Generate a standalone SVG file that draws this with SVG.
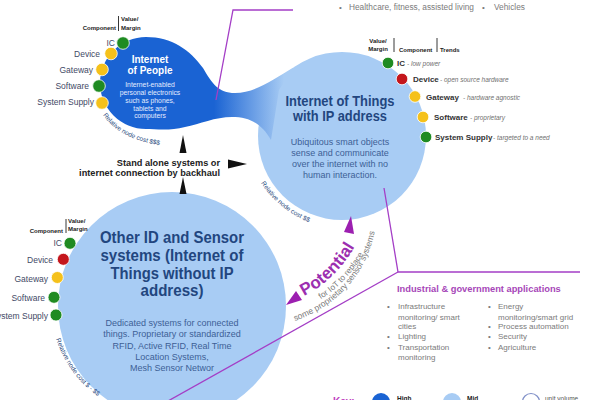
<svg xmlns="http://www.w3.org/2000/svg" width="600" height="400" viewBox="0 0 600 400">
<style>
text{font-family:"Liberation Sans",Arial,"DejaVu Sans",sans-serif}
.hdr{font-size:6px;font-weight:bold;fill:#222}
.lab{font-size:8.5px;fill:#3f4a66}
.labb{font-size:8px;font-weight:bold;fill:#333}
.trd{font-size:6.5px;font-style:italic;fill:#707070}
.dot{stroke:#fff;stroke-width:0.8}
.gr{fill:#1f8b22}.ye{fill:#f5c11b}.rd{fill:#c4161c}
.cost{font-size:6.5px;fill:#2b4c80}
.ttl{font-weight:bold;fill:#22467f;text-anchor:middle}
.desc{font-size:9px;fill:#3d5f96;text-anchor:middle}
.pl{fill:none;stroke:#a43ec6;stroke-width:1.3}
.arr{fill:#111}
.parr{fill:#9c1fb0}
.app{font-size:8px;fill:#7b7b7b}
.vl{stroke:#222;stroke-width:0.9}
.light{fill:#a8ccf4}
.sa{font-size:9.2px;font-weight:bold;fill:#222;text-anchor:end}
</style>
<defs>
<linearGradient id="neckGrad" gradientUnits="userSpaceOnUse" x1="214" y1="0" x2="284" y2="0">
<stop offset="0" stop-color="#1a63d3"/><stop offset="1" stop-color="#a8ccf4"/>
</linearGradient>
<path id="costIoP" d="M 103,115 Q 122,142 168,146"/>
<path id="costIoT" d="M 261,183 Q 283,216 325,228"/>
<path id="costOther" d="M 56,339 Q 72,386 118,408"/>
<path id="potPath" d="M 304,296 Q 339,278 359,239"/>
<path id="forPath" d="M 309.6,305.9 Q 347.4,286.4 368.9,244.6"/>
<path id="somePath" d="M 295,321 C 330,308 372,280 378,210"/>
</defs>

<g id="node-iot">
<circle cx="342" cy="136" r="84" class="light"/>
<text class="ttl" x="340" y="106" font-size="14.5" textLength="109" lengthAdjust="spacingAndGlyphs">Internet of Things</text>
<text class="ttl" x="340" y="121" font-size="14.5" textLength="94" lengthAdjust="spacingAndGlyphs">with IP address</text>
<text class="desc" x="340" y="144.5">Ubiquitous smart objects</text>
<text class="desc" x="340" y="155.5">sense and communicate</text>
<text class="desc" x="340" y="166.5">over the internet with no</text>
<text class="desc" x="340" y="177.5">human  interaction.</text>
<text class="cost"><textPath href="#costIoT">Relative  node  cost $$</textPath></text>
<text class="hdr" x="378" y="43" text-anchor="middle">Value/</text>
<text class="hdr" x="378" y="51" text-anchor="middle">Margin</text>
<line class="vl" x1="394" y1="38" x2="394" y2="52"/>
<text class="hdr" x="399" y="51.5">Component</text>
<line class="vl" x1="437" y1="38" x2="437" y2="52"/>
<text class="hdr" x="440" y="51.5">Trends</text>
<circle class="dot gr" cx="388" cy="63" r="5.8"/>
<circle class="dot rd" cx="402" cy="79" r="5.8"/>
<circle class="dot ye" cx="415" cy="96.5" r="5.8"/>
<circle class="dot ye" cx="423" cy="117" r="5.8"/>
<circle class="dot gr" cx="426" cy="137" r="5.8"/>
<text class="labb" x="397" y="66">IC</text><text class="trd" x="407" y="66">- low power</text>
<text class="labb" x="413" y="82">Device</text><text class="trd" x="440" y="82">- open source hardware</text>
<text class="labb" x="426" y="99.5">Gateway</text><text class="trd" x="463" y="99.5">- hardware agnostic</text>
<text class="labb" x="434" y="120">Software</text><text class="trd" x="470" y="120">- proprietary</text>
<text class="labb" x="435" y="139.5">System Supply</text><text class="trd" x="493" y="139.5">- targeted to a need</text>
</g>

<g id="node-iop">
<path d="M 146,37 C 172,37 190,50 203,68 C 212,83 218,93 235,93 C 255,93 272,80 293.8,67.2 L 279,90 L 271,140 C 262,124 250,117 232,117 C 215,117 200,124 185,127 C 170,131 156,129 146,129 A 46,46 0 0 1 146,37 Z" fill="url(#neckGrad)"/>
<text x="150" y="63" font-size="10" font-weight="bold" fill="#fff" text-anchor="middle">Internet</text>
<text x="150" y="74" font-size="10" font-weight="bold" fill="#fff" text-anchor="middle">of People</text>
<g font-size="6.8" fill="#e4ecff" text-anchor="middle">
<text x="150" y="87">Internet-enabled</text>
<text x="150" y="95">personal  electronics</text>
<text x="150" y="103">such as phones,</text>
<text x="150" y="110.5">tablets  and</text>
<text x="150" y="118">computers</text>
</g>
<text class="cost"><textPath href="#costIoP">Relative  node  cost $$$</textPath></text>
<text class="hdr" x="116" y="30" text-anchor="end">Component</text>
<line class="vl" x1="118.5" y1="16" x2="118.5" y2="31"/>
<text class="hdr" x="121" y="21">Value/</text>
<text class="hdr" x="121" y="29.5">Margin</text>
<circle class="dot gr" cx="123" cy="43" r="6.3"/>
<circle class="dot ye" cx="111" cy="53.5" r="6.3"/>
<circle class="dot ye" cx="102" cy="69.5" r="6.3"/>
<circle class="dot gr" cx="99" cy="86" r="6.3"/>
<circle class="dot ye" cx="102" cy="103" r="6.3"/>
<text class="lab" x="115" y="45.5" text-anchor="end">IC</text>
<text class="lab" x="100" y="57" text-anchor="end">Device</text>
<text class="lab" x="93" y="73" text-anchor="end">Gateway</text>
<text class="lab" x="89" y="89" text-anchor="end">Software</text>
<text class="lab" x="94" y="105" text-anchor="end">System Supply</text>
</g>

<g id="node-other">
<circle cx="172" cy="306" r="114" class="light"/>
<text class="ttl" x="172" y="243" font-size="16" textLength="144" lengthAdjust="spacingAndGlyphs">Other ID and Sensor</text>
<text class="ttl" x="172" y="261" font-size="16" textLength="143" lengthAdjust="spacingAndGlyphs">systems (Internet of</text>
<text class="ttl" x="172" y="278.5" font-size="16" textLength="123" lengthAdjust="spacingAndGlyphs">Things without IP</text>
<text class="ttl" x="172" y="296" font-size="16" textLength="63" lengthAdjust="spacingAndGlyphs">address)</text>
<text class="desc" x="172" y="326">Dedicated systems for connected</text>
<text class="desc" x="172" y="337.3">things. Proprietary or standardized</text>
<text class="desc" x="172" y="348.5">RFID, Active RFID, Real Time</text>
<text class="desc" x="172" y="359.8">Location Systems,</text>
<text class="desc" x="172" y="371">Mesh Sensor Networ</text>
<text class="cost"><textPath href="#costOther">Relative  node  cost $ - $$</textPath></text>
<text class="hdr" x="63" y="232.5" text-anchor="end">Component</text>
<line class="vl" x1="66" y1="219" x2="66" y2="233"/>
<text class="hdr" x="68" y="223">Value/</text>
<text class="hdr" x="68" y="231">Margin</text>
<circle class="dot gr" cx="70" cy="243.3" r="6"/>
<circle class="dot rd" cx="63.3" cy="259.3" r="6"/>
<circle class="dot ye" cx="57.3" cy="277.5" r="6"/>
<circle class="dot gr" cx="54" cy="297.3" r="6"/>
<circle class="dot gr" cx="56" cy="315" r="6"/>
<text class="lab" x="62" y="245.5" text-anchor="end">IC</text>
<text class="lab" x="53" y="263" text-anchor="end">Device</text>
<text class="lab" x="48" y="281.5" text-anchor="end">Gateway</text>
<text class="lab" x="45" y="300.5" text-anchor="end">Software</text>
<text class="lab" x="48" y="318.5" text-anchor="end">System Supply</text>
</g>

<g id="node-standalone">
<text class="sa" x="220" y="166">Stand alone systems or</text>
<text class="sa" x="220" y="175.5">internet connection by backhaul</text>
</g>

<g id="node-consumer">
<text class="app" x="339" y="10">•</text>
<text class="app" x="349" y="10" style="font-size:8.3px">Healthcare, fitness, assisted living</text>
<text class="app" x="482" y="10">•</text>
<text class="app" x="494" y="10" style="font-size:8.3px">Vehicles</text>
</g>

<g id="node-industrial">
<text x="397" y="292" font-size="9.3" font-weight="bold" fill="#a646b8">Industrial &amp; government applications</text>
<g class="app">
<text x="387" y="309">•</text><text x="398" y="309">Infrastructure</text>
<text x="398" y="319.5">monitoring/ smart</text>
<text x="398" y="329">cities</text>
<text x="387" y="339">•</text><text x="398" y="339">Lighting</text>
<text x="387" y="349.5">•</text><text x="398" y="349.5">Transportation</text>
<text x="398" y="359.5">monitoring</text>
<text x="488" y="309">•</text><text x="498" y="309">Energy</text>
<text x="498" y="319.5">monitoring/smart grid</text>
<text x="488" y="329">•</text><text x="498" y="329">Process automation</text>
<text x="488" y="339">•</text><text x="498" y="339">Security</text>
<text x="488" y="349.5">•</text><text x="498" y="349.5">Agriculture</text>
</g>
</g>

<g id="node-potential">
<text font-size="17" font-weight="bold" fill="#9c2fb0"><textPath href="#potPath">Potential</textPath></text>
<text font-size="8.3" fill="#7a7a7a"><textPath href="#forPath" startOffset="13">for IoT to replace</textPath></text>
<text font-size="8.5" fill="#7a7a7a"><textPath href="#somePath">some proprietary sensor systems</textPath></text>
</g>

<g id="legend">
<text x="333" y="405" font-size="10" font-weight="bold" fill="#c040c0">Key:</text>
<circle cx="381" cy="402" r="9" fill="#1a63d3"/>
<text x="397" y="401" font-size="6.5" font-weight="bold" fill="#222">High</text>
<circle cx="452" cy="402" r="9" class="light"/>
<text x="467" y="401" font-size="6.5" font-weight="bold" fill="#222">Mid</text>
<circle cx="531" cy="402" r="8.5" fill="#fff" stroke="#8090c8" stroke-width="1.2"/>
<text x="545" y="401" font-size="6.5" fill="#555">unit volume</text>
</g>

<g id="connectors">
<polyline class="pl" points="293,10 233,10 216,100"/>
<polyline class="pl" points="384,188 398,272 580,272"/>
<line class="pl" x1="398" y1="272" x2="168" y2="401"/>
<polygon class="arr" points="183,135 179.5,153 186.5,153"/>
<polygon class="arr" points="183,177 179.5,194 186.5,194"/>
<polygon class="arr" points="247,164 228,159.5 228,168.5"/>
<polygon class="parr" points="351,216 354,234 344,232"/>
<polygon class="parr" points="286,305 302,300 296,291"/>
</g>
</svg>
